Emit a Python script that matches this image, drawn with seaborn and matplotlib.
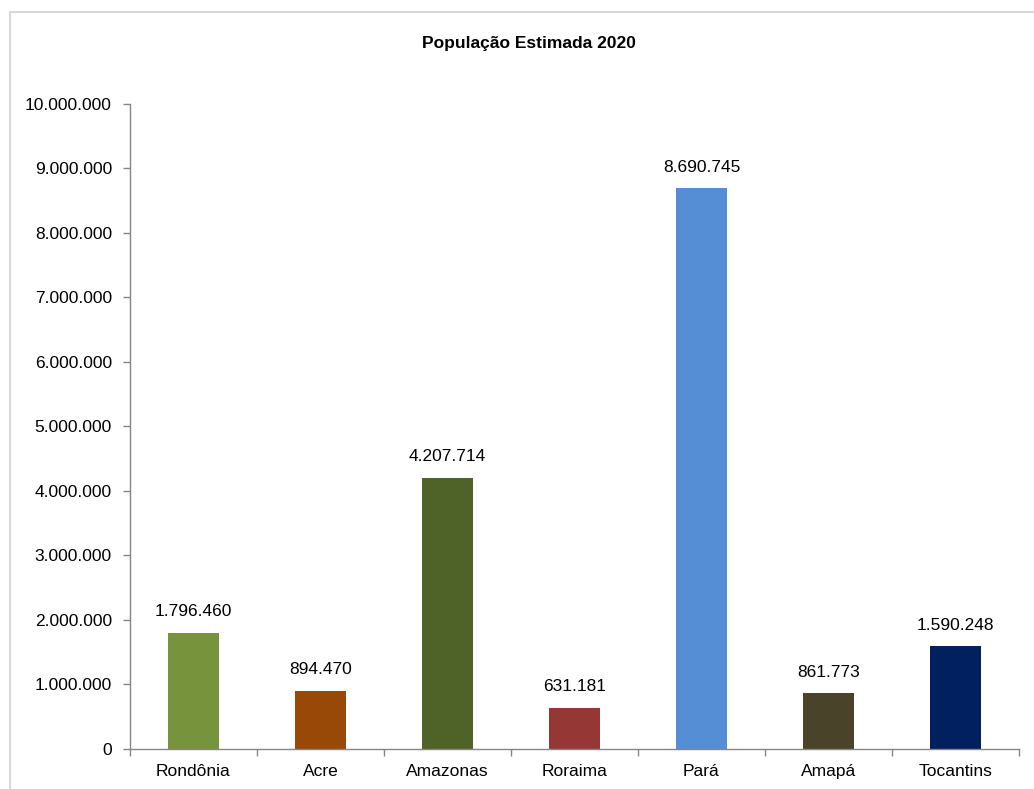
"""
População Estimada 2020 - estados da região Norte.
"""

import matplotlib
matplotlib.use("Agg")
import matplotlib.pyplot as plt
import matplotlib.ticker as mticker
from matplotlib.patches import Rectangle
import seaborn as sns
import pandas as pd

estados = ["Rondônia", "Acre", "Amazonas", "Roraima", "Pará", "Amapá", "Tocantins"]
populacao = [1796460, 894470, 4207714, 631181, 8690745, 861773, 1590248]
cores = ["#77933C", "#984807", "#4F6228", "#953735", "#558ED5", "#494429", "#002060"]
y_ticks = list(range(0, 10_000_001, 1_000_000))


def fmt_br(v):
    return f"{int(v):,}".replace(",", ".")


sns.set_theme(style="white")
plt.rcParams["font.family"] = ["Liberation Sans", "DejaVu Sans"]

df = pd.DataFrame({"estado": estados, "pop": populacao})

fig = plt.figure(figsize=(10.34, 7.89), dpi=100)
ax = fig.add_axes([0.1257, 0.0507, 0.8598, 0.8175])

sns.barplot(data=df, x="estado", y="pop", hue="estado", palette=cores,
            width=0.4, legend=False, ax=ax, saturation=1, linewidth=0)

for i, v in enumerate(populacao):
    ax.annotate(fmt_br(v), (i, v), xytext=(0, 10), textcoords="offset points",
                ha="center", va="bottom", fontsize=12.5, color="black")

ax.set_ylim(0, 10_000_000)
ax.set_xlim(-0.5, len(estados) - 0.5)
ax.set_yticks(y_ticks)
ax.yaxis.set_major_formatter(mticker.FuncFormatter(lambda v, p: fmt_br(v)))
ax.set_xlabel("")
ax.set_ylabel("")

# tick marks between categories on x
ax.set_xticks([i - 0.5 for i in range(len(estados) + 1)], minor=True)
ax.tick_params(axis="x", which="major", length=0, pad=11, labelsize=12.5, labelcolor="black")
ax.tick_params(axis="x", which="minor", length=5, width=1, color="#868686", direction="out", bottom=True)
ax.tick_params(axis="y", which="major", length=5, width=1, color="#868686", direction="out",
               left=True, pad=8, labelsize=12.5, labelcolor="black")

sns.despine(ax=ax)
for s in ["left", "bottom"]:
    ax.spines[s].set_color("#868686")
    ax.spines[s].set_linewidth(1)

fig.text(0.5116, 0.945, "População Estimada 2020", ha="center", va="center",
         fontsize=12.5, fontweight="bold", color="black")

# light frame of the chart area
fig.patches.append(Rectangle((10 / 1034, -0.05), 1.2, 1 - 12 / 789 + 0.05,
                             transform=fig.transFigure, fill=False,
                             edgecolor="#D9D9D9", linewidth=1.5))

fig.savefig("out.png", dpi=100)
